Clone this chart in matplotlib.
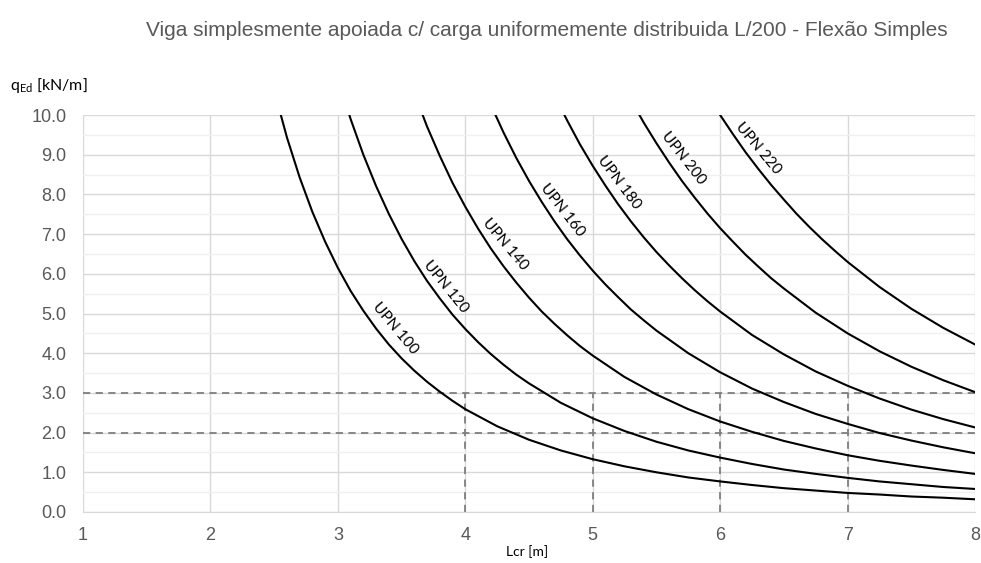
import numpy as np
import matplotlib.pyplot as plt
from matplotlib.ticker import MultipleLocator

FIGWIDTH = 9.81
FIGHEIGHT = 5.63
GREY = '#595959'

plt.rcParams['font.family'] = ['Liberation Sans', 'DejaVu Sans']

# span Lcr [m] and qEd [kN/m]
# (finer steps where the curve is steep)
L_100 = [2.5, 2.6, 2.7, 2.8, 2.9, 3.0, 3.1, 3.2, 3.3, 3.4, 3.5, 3.6, 3.7, 3.8, 3.9, 4.0,
         4.25, 4.5, 4.75, 5.0, 5.25, 5.5, 5.75, 6.0, 6.25, 6.5, 6.75, 7.0, 7.25, 7.5, 7.75, 8.0]
q_100 = [10.62, 9.44, 8.43, 7.56, 6.81, 6.15, 5.57, 5.07, 4.62, 4.22, 3.87, 3.56, 3.28, 3.03, 2.80, 2.59,
         2.16, 1.82, 1.55, 1.33, 1.15, 1.00, 0.87, 0.77, 0.68, 0.60, 0.54, 0.48, 0.44, 0.39, 0.36, 0.32]

L_120 = [3.0, 3.1, 3.2, 3.3, 3.4, 3.5, 3.6, 3.7, 3.8, 3.9, 4.0, 4.1, 4.2, 4.3, 4.4, 4.5,
         4.75, 5.0, 5.25, 5.5, 5.75, 6.0, 6.25, 6.5, 6.75, 7.0, 7.25, 7.5, 7.75, 8.0]
q_120 = [10.93, 9.90, 9.00, 8.21, 7.51, 6.88, 6.32, 5.82, 5.38, 4.97, 4.61, 4.28, 3.98, 3.71, 3.46, 3.24,
         2.75, 2.36, 2.04, 1.77, 1.55, 1.37, 1.21, 1.07, 0.96, 0.86, 0.77, 0.70, 0.63, 0.58]

L_140 = [3.6, 3.7, 3.8, 3.9, 4.0, 4.1, 4.2, 4.3, 4.4, 4.5, 4.6, 4.7, 4.8, 4.9, 5.0,
         5.25, 5.5, 5.75, 6.0, 6.25, 6.5, 6.75, 7.0, 7.25, 7.5, 7.75, 8.0]
q_140 = [10.55, 9.71, 8.97, 8.29, 7.69, 7.14, 6.64, 6.19, 5.78, 5.40, 5.05, 4.74, 4.45, 4.18, 3.94,
         3.40, 2.96, 2.59, 2.28, 2.02, 1.79, 1.60, 1.43, 1.29, 1.17, 1.06, 0.96]

L_160 = [4.2, 4.3, 4.4, 4.5, 4.6, 4.7, 4.8, 4.9, 5.0, 5.1, 5.2, 5.3, 5.4, 5.5,
         5.75, 6.0, 6.25, 6.5, 6.75, 7.0, 7.25, 7.5, 7.75, 8.0]
q_160 = [10.26, 9.56, 8.92, 8.34, 7.81, 7.32, 6.87, 6.46, 6.08, 5.73, 5.41, 5.10, 4.83, 4.57,
         4.00, 3.52, 3.11, 2.77, 2.47, 2.22, 1.99, 1.80, 1.63, 1.48]

L_180 = [4.7, 4.8, 4.9, 5.0, 5.1, 5.2, 5.3, 5.4, 5.5, 5.6, 5.7, 5.8, 5.9, 6.0,
         6.25, 6.5, 6.75, 7.0, 7.25, 7.5, 7.75, 8.0]
q_180 = [10.50, 9.86, 9.26, 8.72, 8.22, 7.75, 7.32, 6.92, 6.55, 6.21, 5.89, 5.59, 5.31, 5.05,
         4.46, 3.97, 3.54, 3.18, 2.86, 2.58, 2.34, 2.13]

L_200 = [5.3, 5.4, 5.5, 5.6, 5.7, 5.8, 5.9, 6.0, 6.1, 6.2, 6.3, 6.4, 6.5,
         6.75, 7.0, 7.25, 7.5, 7.75, 8.0]
q_200 = [10.38, 9.81, 9.29, 8.80, 8.34, 7.92, 7.52, 7.15, 6.81, 6.48, 6.18, 5.89, 5.63,
         5.02, 4.50, 4.05, 3.66, 3.32, 3.02]

L_220 = [5.9, 6.0, 6.1, 6.2, 6.3, 6.4, 6.5, 6.6, 6.7, 6.8, 6.9, 7.0,
         7.25, 7.5, 7.75, 8.0]
q_220 = [10.52, 10.00, 9.52, 9.06, 8.64, 8.24, 7.87, 7.51, 7.18, 6.87, 6.58, 6.30,
         5.67, 5.12, 4.64, 4.22]

names = ['UPN 100', 'UPN 120', 'UPN 140', 'UPN 160', 'UPN 180', 'UPN 200', 'UPN 220']
spans = [L_100, L_120, L_140, L_160, L_180, L_200, L_220]
loads = [q_100, q_120, q_140, q_160, q_180, q_200, q_220]

# label positions (Lcr, q, rotation)
label_pos = [(3.45, 4.63, -50), (3.85, 5.67, -51), (4.31, 6.73, -50), (4.76, 7.60, -52),
             (5.21, 8.29, -53), (5.71, 8.92, -52), (6.30, 9.17, -50)]

q_lines = [2.0, 3.0]
L_lines = [4, 5, 6, 7]

fig = plt.figure(figsize=(FIGWIDTH, FIGHEIGHT), dpi=100)
ax = fig.add_axes([0.0846, 0.0906, 0.9093, 0.7051])

for name, xs, ys, (lx, ly, rot) in zip(names, spans, loads, label_pos):
    ax.plot(xs, ys, color='black', lw=1.5, zorder=3)
    ax.text(lx, ly, name, rotation=rot, ha='center', va='center', fontsize=11,
            family=['Lato', 'DejaVu Sans'], color='black', zorder=4)

for q in q_lines:
    ax.plot([1, 8], [q, q], ls=(0, (4, 3)), color='#7f7f7f', lw=1.3, zorder=2)
for l in L_lines:
    ax.plot([l, l], [0, 3], ls=(0, (4, 3)), color='#7f7f7f', lw=1.3, zorder=2)

ax.set_xlim(1, 8)
ax.set_ylim(0, 10)
ax.xaxis.set_major_locator(MultipleLocator(1))
ax.yaxis.set_major_locator(MultipleLocator(1))
ax.yaxis.set_minor_locator(MultipleLocator(0.5))
ax.set_yticklabels([f'{v:.1f}' for v in ax.get_yticks()])
ax.grid(which='major', color='#d9d9d9', lw=1)
ax.grid(which='minor', axis='y', color='#f0f0f0', lw=1)
ax.set_axisbelow(True)
for s in ['top', 'right', 'left']:
    ax.spines[s].set_visible(False)
ax.spines['bottom'].set_color('#d9d9d9')
ax.tick_params(which='both', length=0, labelsize=13, colors=GREY)
ax.tick_params(axis='x', pad=11)
ax.tick_params(axis='y', pad=12)

fig.text(0.557, 0.945, 'Viga simplesmente apoiada c/ carga uniformemente distribuida L/200 - Flexão Simples',
         ha='center', va='center', fontsize=15, color=GREY)
fig.text(0.010, 0.849, r'q$_{\mathregular{Ed}}$ [kN/m]', ha='left', va='center',
         fontsize=11.5, family=['Lato', 'DejaVu Sans'], color='black')
fig.text(0.537, 0.020, 'Lcr [m]', ha='center', va='center', fontsize=10,
         family=['Lato', 'DejaVu Sans'], color='black')

fig.savefig('out.png', dpi=100)
